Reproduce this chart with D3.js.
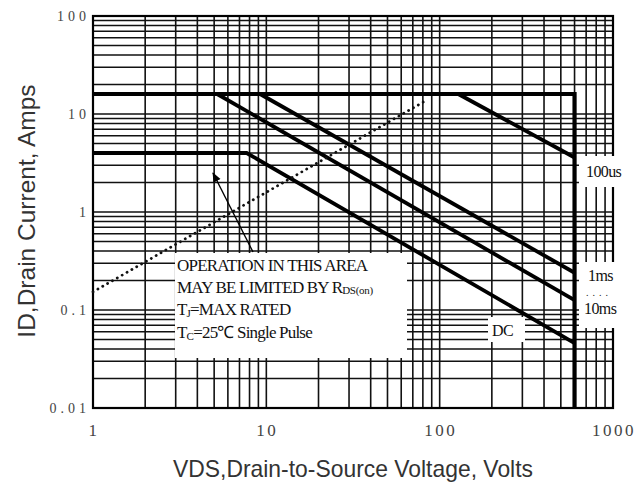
<!DOCTYPE html>
<html>
<head>
<meta charset="utf-8">
<script src="https://cdn.jsdelivr.net/npm/d3@7"></script>
<style>
  body { margin: 0; background: #fff; }
  svg { display: block; }
</style>
</head>
<body>
<div id="chart"></div>
<script>
// safe operating area curves (VDS in volts, ID in amps)
const boundV = [1, 600, 600];
const boundI = [16, 16, 0.01];
const dcV = [1, 7.7, 600];
const dcI = [4, 4, 0.046];
const ms10V = [5.2, 600];
const ms10I = [16, 0.126];
const ms1V = [9.2, 600];
const ms1I = [16, 0.24];
const us100V = [128, 600];
const us100I = [16, 3.6];
const rdsV = [1, 85];
const rdsI = [0.153, 14];

const xTicks = [1, 10, 100, 1000];
const yTicks = [0.01, 0.1, 1, 10, 100];
const yTickLabels = ["0.01", "0.1", "1", "10", "100"];

const width = 641, height = 490;
const margin = {top: 16, right: 28, bottom: 82, left: 93};

const svg = d3.select("#chart").append("svg")
    .attr("width", width)
    .attr("height", height);

const x = d3.scaleLog().domain([1, 1000]).range([margin.left, width - margin.right]);
const y = d3.scaleLog().domain([0.01, 100]).range([height - margin.bottom, margin.top]);

// log grid values
function logGrid(lo, hi) {
    let out = [];
    for (let d = lo; d < hi; d *= 10) {
        for (let k = 1; k <= 9; k++) out.push(d * k);
    }
    out.push(hi);
    return out;
}

const grid = svg.append("g").attr("stroke", "#111").attr("stroke-width", 1.6);
grid.selectAll(".vx").data(logGrid(1, 1000)).join("line")
    .attr("x1", d => x(d)).attr("x2", d => x(d))
    .attr("y1", y(100)).attr("y2", y(0.01));
grid.selectAll(".hy").data(logGrid(0.01, 100)).join("line")
    .attr("x1", x(1)).attr("x2", x(1000))
    .attr("y1", d => y(d)).attr("y2", d => y(d));

// frame
svg.append("rect")
    .attr("x", x(1)).attr("y", y(100))
    .attr("width", x(1000) - x(1)).attr("height", y(0.01) - y(100))
    .attr("fill", "none").attr("stroke", "#000").attr("stroke-width", 2.2);

// white label patches
const patches = [
    {x: 175, y: 253, w: 232, h: 105},
    {x: 488, y: 317, w: 37, h: 25},
    {x: 579, y: 156, w: 48, h: 31},
    {x: 579, y: 262, w: 40, h: 66}
];
svg.append("g").selectAll("rect").data(patches).join("rect")
    .attr("x", d => d.x).attr("y", d => d.y)
    .attr("width", d => d.w).attr("height", d => d.h)
    .attr("fill", "#fff");

const line = d3.line().x(d => x(d[0])).y(d => y(d[1]));
const zip = (a, b) => a.map((v, i) => [v, b[i]]);

const curves = [
    {v: boundV, i: boundI, w: 4.2},
    {v: dcV, i: dcI, w: 3.8},
    {v: ms10V, i: ms10I, w: 3.8},
    {v: ms1V, i: ms1I, w: 3.8},
    {v: us100V, i: us100I, w: 3.8}
];
svg.append("g").selectAll("path").data(curves).join("path")
    .attr("d", d => line(zip(d.v, d.i)))
    .attr("fill", "none")
    .attr("stroke", "#000")
    .attr("stroke-width", d => d.w)
    .attr("stroke-linejoin", "miter");

// Rds(on) limit, dotted
svg.append("path")
    .attr("d", line(zip(rdsV, rdsI)))
    .attr("fill", "none")
    .attr("stroke", "#111")
    .attr("stroke-width", 2.8)
    .attr("stroke-linecap", "round")
    .attr("stroke-dasharray", "0.1 5.5");

// arrow
svg.append("defs").append("marker")
    .attr("id", "arrow")
    .attr("viewBox", "0 0 10 10")
    .attr("refX", 9).attr("refY", 5)
    .attr("markerWidth", 7).attr("markerHeight", 7)
    .attr("orient", "auto")
    .append("path").attr("d", "M0,1 L10,5 L0,9 Z").attr("fill", "#000");
svg.append("line")
    .attr("x1", 253).attr("y1", 252)
    .attr("x2", 213).attr("y2", 173)
    .attr("stroke", "#000").attr("stroke-width", 1.4)
    .attr("marker-end", "url(#arrow)");

// note text
const serif = "'Liberation Serif', 'Times New Roman', serif";
const note = svg.append("g")
    .attr("font-family", serif)
    .attr("font-size", 17)
    .attr("fill", "#111")
    .attr("letter-spacing", -0.8);
note.append("text").attr("x", 177).attr("y", 271).text("OPERATION IN THIS AREA");
const t2 = note.append("text").attr("x", 177).attr("y", 293).text("MAY BE LIMITED BY R");
t2.append("tspan").attr("font-size", 11).attr("dy", 1).attr("letter-spacing", -0.3).text("DS(on)");
const t3 = note.append("text").attr("x", 177).attr("y", 315).text("T");
t3.append("tspan").attr("font-size", 11).attr("dy", 2).text("J");
t3.append("tspan").attr("dy", -2).text("=MAX RATED");
const t4 = note.append("text").attr("x", 177).attr("y", 338).text("T");
t4.append("tspan").attr("font-size", 11).attr("dy", 2).text("C");
t4.append("tspan").attr("dy", -2).text("=25\u2103  Single Pulse");

// curve labels
const curveLabels = [
    {t: "100us", x: 586, y: 177},
    {t: "1ms", x: 588, y: 281},
    {t: "10ms", x: 584, y: 314},
    {t: "DC", x: 492, y: 336}
];
svg.append("g")
    .attr("font-family", serif).attr("font-size", 16).attr("fill", "#111")
    .attr("letter-spacing", -0.6)
    .selectAll("text").data(curveLabels).join("text")
    .attr("x", d => d.x).attr("y", d => d.y).text(d => d.t);
svg.append("text")
    .attr("x", 586).attr("y", 296)
    .attr("font-family", serif).attr("font-size", 10).attr("letter-spacing", 4)
    .attr("fill", "#222").text("....");

// tick labels
svg.append("g")
    .attr("font-family", serif).attr("font-size", 17).attr("fill", "#444")
    .attr("letter-spacing", 2.5).attr("text-anchor", "middle")
    .selectAll("text").data(xTicks).join("text")
    .attr("x", d => x(d) + 1).attr("y", 436).text(d => d);
svg.append("g")
    .attr("font-family", serif).attr("font-size", 14).attr("fill", "#444")
    .attr("letter-spacing", 4).attr("text-anchor", "end")
    .selectAll("text").data(yTicks).join("text")
    .attr("x", 90).attr("y", d => y(d) + 5).text((d, i) => yTickLabels[i]);

// axis titles
const sans = "'Liberation Sans', Arial, sans-serif";
svg.append("text")
    .attr("x", 353).attr("y", 477)
    .attr("text-anchor", "middle")
    .attr("font-family", sans).attr("font-size", 24).attr("fill", "#333")
    .attr("textLength", 360).attr("lengthAdjust", "spacingAndGlyphs")
    .text("VDS,Drain-to-Source Voltage, Volts");
svg.append("text")
    .attr("transform", "translate(35,211) rotate(-90)")
    .attr("text-anchor", "middle")
    .attr("font-family", sans).attr("font-size", 24.5).attr("fill", "#333")
    .text("ID,Drain Current, Amps");
</script>
</body>
</html>
